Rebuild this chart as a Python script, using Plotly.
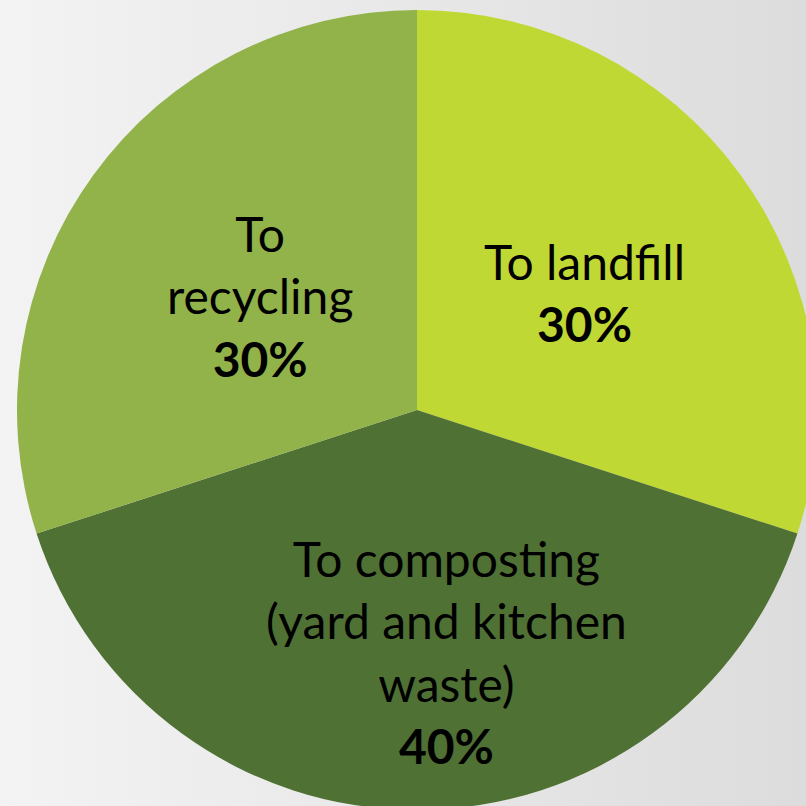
import math
import plotly.graph_objects as go

# ---- data ----
categories = ["To landfill", "To composting (yard and kitchen waste)", "To recycling"]
shares = [30, 40, 30]
label_lines = ["To landfill", "To composting<br>(yard and kitchen<br>waste)", "To<br>recycling"]

# ---- style ----
colors = ["#c0d833", "#4f7134", "#92b24a"]
FONT = "Lato, 'Open Sans', sans-serif"

# pie geometry on the page
R = 400            # pie radius in px
CX, CY = 417, 410  # pie centre in px on page
W, H = CX + R, CY + R

fig = go.Figure(
    go.Pie(
        labels=categories,
        values=shares,
        sort=False,
        direction="clockwise",
        rotation=0,
        marker=dict(colors=colors, line=dict(width=0)),
        textinfo="none",
        showlegend=False,
        domain=dict(x=[0, 1], y=[0, 1]),
    )
)

# label placement: (fraction of radius, offset angle in degrees) relative to slice mid-angle
place = [(0.51, 1.0), (0.61, -7.0), (0.485, 0.0)]
total = sum(shares)
start = 0.0
for i, (v, txt) in enumerate(zip(shares, label_lines)):
    ang = start + v / total * 360 / 2
    start += v / total * 360
    frac, dang = place[i]
    a = math.radians(ang + dang)
    px = CX + frac * R * math.sin(a)
    py = CY - frac * R * math.cos(a)
    fig.add_annotation(
        x=(px - (CX - R)) / (2 * R),
        y=1 - (py - (CY - R)) / (2 * R),
        xref="paper", yref="paper",
        text=f"{txt}<br><b>{v}%</b>",
        showarrow=False,
        font=dict(family=FONT, size=48, color="#000000"),
        align="center",
        xanchor="center", yanchor="middle",
    )

fig.update_layout(
    width=W, height=H,
    autosize=False,
    margin=dict(l=CX - R, t=CY - R, r=0, b=0, pad=0),
    paper_bgcolor="rgba(0,0,0,0)",
    plot_bgcolor="rgba(0,0,0,0)",
)

fig.write_html(
    "out.html",
    config={"displayModeBar": False},
    post_script=(
        "document.body.style.margin='0';"
        "document.body.style.overflow='hidden';"
        "document.body.style.background='linear-gradient(to right, #f3f3f3 0%, #e8e8e8 50%, #dcdcdc 100%)';"
        "document.body.style.minHeight='100vh';"
    ),
)
